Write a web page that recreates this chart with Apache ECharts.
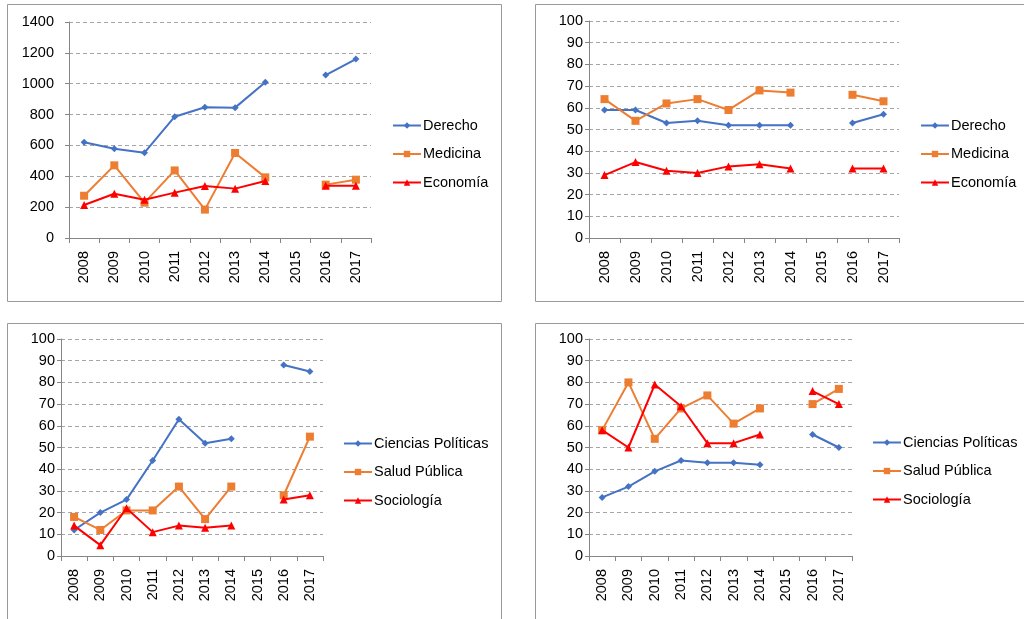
<!DOCTYPE html>
<html><head><meta charset="utf-8">
<script src="https://cdn.jsdelivr.net/npm/echarts@6/dist/echarts.min.js"></script>
<style>html,body{margin:0;padding:0;background:#fff}#c{width:1024px;height:619px}</style>
</head><body><div id="c"></div>
<script>
const years = ['2008','2009','2010','2011','2012','2013','2014','2015','2016','2017'];
// Panel 1 (absolute numbers)
const p1Derecho  = [620, 579, 553, 786, 847, 845, 1009, null, 1056, 1160];
const p1Medicina = [274, 471, 229, 438, 184, 551, 393, null, 346, 378];
const p1Economia = [214, 287, 248, 294, 337, 320, 369, null, 339, 339];
// Panel 2
const p2Derecho  = [59, 59, 53, 54, 52, 52, 52, null, 53, 57];
const p2Medicina = [64, 54, 62, 64, 59, 68, 67, null, 66, 63];
const p2Economia = [29, 35, 31, 30, 33, 34, 32, null, 32, 32];
// Panel 3
const p3Ciencias = [12, 20, 26, 44, 63, 52, 54, null, 88, 85];
const p3Salud    = [18, 12, 21, 21, 32, 17, 32, null, 28, 55];
const p3Socio    = [14, 5, 22, 11, 14, 13, 14, null, 26, 28];
// Panel 4
const p4Ciencias = [27, 32, 39, 44, 43, 43, 42, null, 56, 50];
const p4Salud    = [58, 80, 54, 68, 74, 61, 68, null, 70, 77];
const p4Socio    = [58, 50, 79, 69, 52, 52, 56, null, 76, 70];

const names1 = ['Derecho','Medicina','Economía'];
const names2 = ['Ciencias Políticas','Salud Pública','Sociología'];
const yTicks1 = {min:0, max:1400, interval:200};
const yTicks2 = {min:0, max:100, interval:10};

const FONT = 'Liberation Sans';
const FS = 14.5;
const colors = ['#4472C4','#ED7D31','#FF0000'];
const symbols = ['diamond','rect','triangle'];
const symSizes = [7,8,8];

const grids = [
  {left:69, top:22, width:302, height:216},
  {left:589, top:21, width:310, height:217},
  {left:61, top:339, width:262, height:217},
  {left:589, top:339, width:263, height:217}
];
const yCfg = [yTicks1, yTicks2, yTicks2, yTicks2];
const yMargins = [15, 6, 6, 6];
const data = [
  [p1Derecho,p1Medicina,p1Economia],
  [p2Derecho,p2Medicina,p2Economia],
  [p3Ciencias,p3Salud,p3Socio],
  [p4Ciencias,p4Salud,p4Socio]
];
const namesets = [names1,names1,names2,names2];
const legendPos = [
  {left:392, top:118},
  {left:920, top:118},
  {left:343, top:436},
  {left:872, top:435}
];

const series = [];
data.forEach((set,gi)=>{
  set.forEach((arr,si)=>{
    series.push({
      type:'line', name:namesets[gi][si], xAxisIndex:gi, yAxisIndex:gi,
      data:arr, symbol:symbols[si], symbolSize:symSizes[si],
      lineStyle:{color:colors[si], width:2},
      itemStyle:{color:colors[si]},
      connectNulls:false, animation:false, z:3+si
    });
  });
});

const option = {
  animation:false,
  textStyle:{fontFamily:FONT},
  grid: grids.map(g=>Object.assign({containLabel:false},g)),
  xAxis: grids.map((g,i)=>({
    type:'category', gridIndex:i, data:years, boundaryGap:true,
    axisLine:{lineStyle:{color:'#868686', width:1}},
    axisTick:{show:true, length:5, lineStyle:{color:'#868686'}},
    axisLabel:{rotate:90, margin:13, color:'#000', fontSize:FS, fontFamily:FONT, interval:0},
    splitLine:{show:false}
  })),
  yAxis: grids.map((g,i)=>({
    type:'value', gridIndex:i, min:yCfg[i].min, max:yCfg[i].max, interval:yCfg[i].interval,
    axisLine:{show:true, lineStyle:{color:'#868686', width:1}},
    axisTick:{show:true, length:4, lineStyle:{color:'#868686'}},
    axisLabel:{color:'#000', fontSize:FS, fontFamily:FONT, margin:yMargins[i], formatter:v=>String(v)},
    splitLine:{show:true, lineStyle:{color:'#A6A6A6', type:[4,3], width:1}}
  })),
  legend: legendPos.map((p,i)=>({
    orient:'vertical', left:p.left, top:p.top, padding:0,
    data:namesets[i].map((n,si)=>({name:n})),
    itemWidth:28, itemHeight:8, itemGap:13.5,
    textStyle:{color:'#000', fontSize:FS, fontFamily:FONT, padding:[0,0,0,-3]},
    selectedMode:false
  })),
  graphic: [
    {type:'rect', shape:{x:7.5,y:4.5,width:494,height:297}, style:{fill:'none', stroke:'#999', lineWidth:1}, silent:true},
    {type:'rect', shape:{x:535.5,y:4.5,width:500,height:297}, style:{fill:'none', stroke:'#999', lineWidth:1}, silent:true},
    {type:'rect', shape:{x:7.5,y:323.5,width:494,height:310}, style:{fill:'none', stroke:'#999', lineWidth:1}, silent:true},
    {type:'rect', shape:{x:535.5,y:323.5,width:500,height:310}, style:{fill:'none', stroke:'#999', lineWidth:1}, silent:true}
  ],
  series: series
};
const chart = echarts.init(document.getElementById('c'), null, {renderer:'canvas'});
chart.setOption(option);
</script></body></html>
